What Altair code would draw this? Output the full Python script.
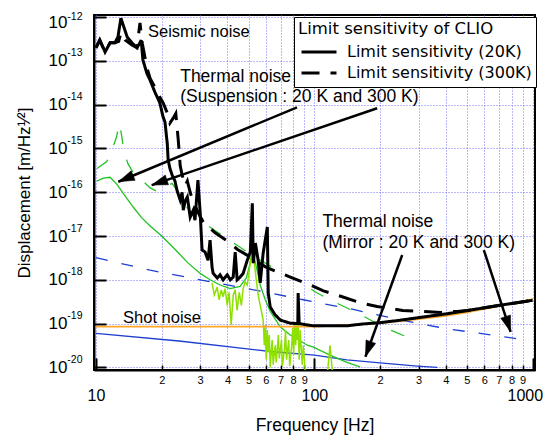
import altair as alt
import pandas as pd

FONT = "Liberation Sans, Arial, Helvetica, sans-serif"
LEGEND_FONT = "DejaVu Sans, sans-serif"
GRID = "#7373f2"

# ---- tick / grid values ----
x_decades = [10, 100, 1000]
x_minor = [20, 30, 40, 50, 60, 70, 80, 90, 200, 300, 400, 500, 600, 700, 800, 900]
y_decades = [1e-20, 1e-19, 1e-18, 1e-17, 1e-16, 1e-15, 1e-14, 1e-13, 1e-12]
x_domain = [9.79, 1025]
y_domain = [8.7e-21, 1.12e-12]

# ---- Limit sensitivity (20K) ----
f_lim20 = [10.0, 10.4, 11.0, 11.6, 12.2, 12.6, 13.0, 13.9, 14.6, 15.4, 15.9, 16.1, 16.4, 17.1, 17.7, 18.6, 19.6, 20.3, 20.7, 21.2,
           21.4, 21.8, 22.3, 23.0, 23.5, 24.3, 24.8, 25.1, 25.6, 26.2, 27.0, 27.9, 28.4, 29.3, 30.0, 30.6, 31.6, 32.6, 33.3, 34.0,
           34.4, 35.9, 37.0, 38.2, 39.9, 41.2, 42.5, 43.4, 44.3, 45.7, 47.2, 49.3, 50.9, 52.0, 52.5, 53.7, 55.3, 56.5, 58.3, 60.9,
           61.5, 62.8, 66.0, 69.9, 77.6, 84.0, 84.3, 85.2, 92.9, 99, 118, 141, 167, 200, 240, 304, 400, 505, 712, 1000]
d_lim20 = [2.0e-13, 3.0e-13, 1.6e-13, 2.6e-13, 2.6e-13, 3.5e-13, 9.5e-13, 3.5e-13, 2.6e-13, 2.0e-13,
           2.6e-13, 3.0e-13, 1.05e-13, 5.2e-14, 3.6e-14, 1.95e-14, 1.1e-14, 5.2e-15, 4.0e-15, 1.3e-15,
           5.5e-16, 3.5e-16, 2.5e-16, 1.8e-16, 1.1e-16, 6.6e-17, 1.0e-16, 3.9e-17, 6.3e-17, 7.8e-17,
           2.7e-17, 3.9e-17, 2.3e-17, 1.9e-16, 3.4e-17, 4.8e-18, 4.3e-18, 2.8e-18, 8.1e-18, 1.95e-18,
           1.4e-18, 1.1e-18, 1.3e-18, 1.0e-18, 1.3e-18, 1.0e-18, 1.15e-18, 4.3e-18, 1.0e-18, 1.15e-18,
           1.4e-18, 2.8e-18, 4.3e-18, 5.6e-17, 2.4e-18, 6.9e-18, 2.8e-18, 8.5e-19, 4.1e-18, 1.6e-17,
           5.0e-19, 2.4e-19, 1.6e-19, 1.2e-19, 1.02e-19, 1.0e-19, 5.0e-19, 1.0e-19, 9.3e-20, 8.9e-20,
           8.9e-20, 8.9e-20, 9.8e-20, 1.05e-19, 1.17e-19, 1.38e-19, 1.66e-19, 2.0e-19, 2.63e-19, 3.4e-19]

# ---- Limit sensitivity (300K) ----
f_lim300 = [10.0, 10.4, 11.0, 11.6, 12.2, 12.7, 13.0, 13.6, 14.6, 15.4, 15.9, 16.3, 17.1, 17.7, 18.6, 19.6, 20.3, 21.2, 21.8, 22.6,
            23.2, 23.8, 24.3, 24.8, 25.6, 26.2, 27.0, 28.0, 30.0, 31.0, 35.0, 41.2, 44.3, 50.9, 60.0, 68.0, 77.6, 96, 110, 132,
            162, 194, 254, 304, 380, 450, 505, 712, 1000]
d_lim300 = [2.0e-13, 3.0e-13, 1.6e-13, 2.6e-13, 2.6e-13, 2.8e-13, 4.4e-13, 3.0e-13, 2.3e-13, 2.0e-13,
            7.4e-13, 2.5e-13, 7.0e-14, 4.0e-14, 2.5e-14, 1.5e-14, 1.1e-14, 6.5e-15, 3.8e-15, 5.0e-15,
            6.3e-15, 1.6e-15, 4.0e-16, 2.5e-16, 1.4e-16, 1.8e-16, 1.0e-16, 5.6e-17, 2.8e-17, 2.1e-17,
            1.2e-17, 6.9e-18, 5.0e-18, 3.3e-18, 1.95e-18, 1.5e-18, 1.15e-18, 7.6e-19, 5.6e-19, 4.2e-19,
            3.0e-19, 2.45e-19, 2.0e-19, 1.9e-19, 1.8e-19, 1.9e-19, 2.0e-19, 2.63e-19, 3.4e-19]

# ---- Suspension thermal noise 20 K (green solid) ----
f_susp20 = [10.1, 10.8, 11.6, 12.5, 13.3, 14.8, 16.2, 17.7, 20.0, 23.0, 26.2, 30.0, 33.3, 37.0, 41.2, 45.7, 48.8, 50.9, 52.0, 53.7,
            56.5, 59.6, 62.8, 69.9, 77.6, 92.9, 99, 118, 141, 162]
d_susp20 = [1.8e-16, 2.1e-16, 2.2e-16, 1.5e-16, 9.5e-17, 4.6e-17, 2.6e-17, 1.7e-17, 1.0e-17, 5.0e-18,
            2.5e-18, 1.4e-18, 1.0e-18, 7.6e-19, 6.3e-19, 7.1e-19, 1.1e-18, 2.5e-18, 4.8e-18, 2.5e-18,
            7.6e-19, 3.5e-19, 1.9e-19, 8.3e-20, 5.5e-20, 3.2e-20, 2.9e-20, 1.9e-20, 1.3e-20, 1.02e-20]

# ---- Suspension thermal noise 300 K (green dashed) ----
f_susp300 = [10.1, 11.2, 11.9, 12.4, 12.8, 13.1, 13.4, 14.0, 14.8, 15.4, 17.7, 19.0, 20.5, 22.3, 23.5, 25.0, 27.0, 30.6,
             52.5, 70, 86, 103, 122, 146, 167, 207, 267, 296]
d_susp300 = [3.5e-16, 5.0e-16, 1.0e-15, 1.8e-15, 3.8e-15, 2.0e-15, 8.9e-16, 4.5e-16, 2.8e-16, 2.4e-16, 1.26e-16, 1.05e-16,
             1.26e-16, 1.6e-16, 1.1e-16, 6.3e-17, 3.5e-17, 2.1e-17, 3.5e-18, 1.5e-18, 8.9e-19, 5.0e-19, 3.2e-19, 2.1e-19,
             1.5e-19, 8.3e-20, 4.9e-20, 3.7e-20]

# ---- Mirror thermal noise ----
f_mir300 = [10, 17.7, 30, 62.8, 89, 151, 256, 406, 735, 910]
d_mir300 = [3.2e-18, 1.66e-18, 1.0e-18, 5.0e-19, 3.5e-19, 2.1e-19, 1.17e-19, 7.6e-20, 5.0e-20, 4.3e-20]
f_mir20 = [10, 24, 63, 100, 141, 200, 296, 366]
d_mir20 = [6.0e-20, 4.0e-20, 2.3e-20, 1.9e-20, 1.48e-20, 1.26e-20, 1.07e-20, 1.0e-20]

# ---- Shot noise ----
f_shot = [10, 100, 150, 200, 300, 400, 500, 700, 1000]
d_shot = [8.5e-20, 8.5e-20, 9.3e-20, 1.02e-19, 1.26e-19, 1.5e-19, 1.8e-19, 2.5e-19, 3.6e-19]

# ---- residual (light green, spiky) ----
f_resid = [34.0, 34.8, 35.9, 36.6, 37.5, 38.2, 39.0, 39.9, 40.7, 41.6, 42.5, 43.4, 44.3, 45.3, 46.3, 47.2, 48.2, 49.3, 50.3, 51.5,
           52.3, 53.1, 54.2, 55.3, 56.5, 58.3, 59.0, 59.6, 60.2, 60.9, 61.5, 62.2, 62.8, 64.1, 64.8, 66.2, 66.9, 68.4, 69.1, 70.7,
           71.4, 73.1, 73.8, 74.6, 76.3, 77.1, 78.8, 79.6, 80.4, 81.3, 82.2, 83.0, 83.9, 84.3, 85.2, 86.1, 88.0, 89.0, 90.9, 100,
           114, 118, 122]
d_resid = [8.5e-19, 4.5e-19, 6.8e-19, 3.5e-19, 5.9e-19, 4.1e-19, 6.3e-19, 2.6e-19, 5.2e-19, 9.3e-20,
           4.5e-19, 5.9e-19, 2.0e-19, 5.2e-19, 2.6e-19, 6.3e-19, 8.9e-19, 7.6e-19, 1.66e-18, 3.2e-18,
           4.8e-18, 2.5e-18, 1.0e-18, 4.5e-19, 2.6e-19, 1.2e-19, 3.2e-20, 9.3e-20, 1.5e-20, 7.1e-20,
           2.2e-20, 5.5e-20, 1.0e-20, 4.2e-20, 1.15e-20, 3.2e-20, 1.3e-20, 5.5e-20, 1.6e-20, 4.2e-20,
           1.07e-20, 2.75e-20, 7.1e-20, 1.5e-20, 4.2e-20, 1.07e-20, 3.2e-20, 7.9e-20, 1.9e-20, 9.3e-20,
           3.2e-20, 1.1e-19, 4.2e-20, 9.3e-20, 1.5e-20, 7.1e-20, 1.15e-20, 3.2e-20, 7.9e-21, 5e-21,
           5e-21, 3.2e-20, 5e-21]

# ---- annotations ----
text_labels = ["Seismic noise", "Thermal noise", "(Suspension : 20 K and 300 K)",
               "Thermal noise", "(Mirror : 20 K and 300 K)", "Shot noise"]
text_f = [17.3, 24.3, 24.3, 108.9, 108.9, 13.3]
text_d = [4.6e-13, 4.3e-14, 1.5e-14, 2.1e-17, 6.9e-18, 1.35e-19]
text_size = [16.5, 17.5, 17.5, 17.5, 17.5, 16.5]

arrow_f0 = [83.3, 193.9, 252.6, 597.6]
arrow_d0 = [8.7e-15, 8.3e-15, 3.68e-18, 4.79e-18]
arrow_f1 = [12.66, 18.0, 171.4, 792.5]
arrow_d1 = [1.74e-16, 1.46e-16, 1.75e-20, 6.5e-20]
arrow_angle = [247.4, 251.2, 199.8, 161.9]

legend_20k = "Limit sensitivity (20K)"
legend_300k = "Limit sensitivity (300K)"

# ---------------------------------------------------------------
xs = alt.Scale(type="log", domain=x_domain, nice=False)
ys = alt.Scale(type="log", domain=y_domain, nice=False)
x_all = sorted(x_decades + x_minor)

def df(f, d):
    return pd.DataFrame({"f": f, "d": d})

def X(axis=None):
    return alt.X("f:Q", scale=xs, axis=axis)

def Y(axis=None):
    return alt.Y("d:Q", scale=ys, axis=axis)

TOP_TEST = "datum.value > 5e-13"
LAST_TEST = "datum.value > 500"

ax_x_grid = alt.Axis(orient="bottom", values=x_all, grid=True, gridColor=GRID, gridDash=[1, 2], gridWidth=1,
                     ticks=False, domain=True, domainColor="black", domainWidth=2,
                     labelExpr="(datum.value == 10 || datum.value == 100 || datum.value == 1000) ? '' : (datum.value < 100 ? format(datum.value / 10, 'd') : format(datum.value / 100, 'd'))",
                     labelFont=FONT, labelFontSize=11, labelColor="black", labelPadding=4,
                     labelOverlap=False, labelFlush=False, labelBound=False, title=None)
ax_x_major = alt.Axis(orient="bottom", values=x_decades, grid=False, ticks=False, domain=False,
                      labelExpr="format(datum.value, 'd')", labelFont=FONT, labelFontSize=16, labelColor="black",
                      labelAlign={"condition": {"test": LAST_TEST, "value": "right"}, "value": "center"},
                      labelOffset={"condition": {"test": LAST_TEST, "value": 10}, "value": 0},
                      labelPadding=17, labelOverlap=False, labelFlush=False, labelBound=False,
                      title="Frequency [Hz]", titleFont=FONT, titleFontSize=17.5, titleFontWeight="normal",
                      titleColor="black", titlePadding=13)
ax_x_minor_ticks = alt.Axis(orient="top", offset=-355, values=x_minor, grid=False, labels=False, domain=False,
                            ticks=True, tickColor="black", tickWidth=1.5, tickSize=5, title=None)
ax_x_major_ticks = alt.Axis(orient="top", offset=-355, values=x_decades, grid=False, labels=False, domain=False,
                            ticks=True, tickColor="black", tickWidth=2, tickSize=12, title=None)

ax_y_main = alt.Axis(orient="left", values=y_decades, grid=True, gridColor=GRID, gridDash=[1, 2], gridWidth=1,
                     ticks=False, domain=True, domainColor="black", domainWidth=2,
                     labelExpr="'10'", labelFont=FONT, labelFontSize=17, labelColor="black", labelPadding=27,
                     labelOffset={"condition": {"test": TOP_TEST, "value": 5}, "value": 0},
                     labelOverlap=False, labelBound=False,
                     title="Displacement [m/Hz¹⁄²]", titleFont=FONT, titleFontSize=17, titleFontWeight="normal",
                     titleColor="black", titlePadding=15)
ax_y_exp = alt.Axis(orient="left", values=y_decades, grid=False, ticks=False, domain=False,
                    labelExpr="'-' + format(-round(log(datum.value) / LN10), 'd')",
                    labelFont=FONT, labelFontSize=10.5, labelColor="black", labelPadding=12,
                    labelOffset={"condition": {"test": TOP_TEST, "value": -1}, "value": -8},
                    labelOverlap=False, labelBound=False, title=None)
ax_y_ticks = alt.Axis(orient="right", offset=-441, values=y_decades, grid=False, labels=False, domain=False,
                      ticks=True, tickColor="black", tickWidth=2, tickSize=12, title=None)

GREEN = "#22c322"
BLUE = "#1f3fd0"

l_mir20 = alt.Chart(df(f_mir20, d_mir20)).mark_line(color=BLUE, strokeWidth=1.3, clip=True).encode(
    x=X(ax_x_grid), y=Y(ax_y_main))
l_mir300 = alt.Chart(df(f_mir300, d_mir300)).mark_line(color=BLUE, strokeWidth=1.3, strokeDash=[12, 14], clip=True).encode(
    x=X(ax_x_major), y=Y(ax_y_exp))
l_susp20 = alt.Chart(df(f_susp20, d_susp20)).mark_line(color=GREEN, strokeWidth=1.3, clip=True).encode(
    x=X(ax_x_minor_ticks), y=Y(ax_y_ticks))
l_susp300 = alt.Chart(df(f_susp300, d_susp300)).mark_line(color=GREEN, strokeWidth=1.3, strokeDash=[14, 16], clip=True).encode(
    x=X(ax_x_major_ticks), y=Y())
l_resid = alt.Chart(df(f_resid, d_resid)).mark_line(color="#8ee000", strokeWidth=1.5, clip=True).encode(
    x=X(), y=Y())
l_shot = alt.Chart(df(f_shot, d_shot)).mark_line(color="#ffa726", strokeWidth=1.8, clip=True).encode(
    x=X(), y=Y())

black_df = pd.concat([
    pd.DataFrame({"f": f_lim300, "d": d_lim300, "series": legend_300k}),
    pd.DataFrame({"f": f_lim20, "d": d_lim20, "series": legend_20k}),
])
l_black = alt.Chart(black_df).mark_line(color="black", strokeWidth=3, clip=True).encode(
    x=X(), y=Y(),
    strokeDash=alt.StrokeDash(
        "series:N",
        scale=alt.Scale(domain=[legend_20k, legend_300k], range=[[1, 0], [18, 11]]),
        legend=alt.Legend(
            title="Limit sensitivity of CLIO", orient="none", legendX=200, legendY=2,
            fillColor="white", strokeColor="black", padding=4, cornerRadius=0,
            titleFont=LEGEND_FONT, titleFontSize=16.5, titleFontWeight="normal", titleColor="black",
            titlePadding=5, titleLimit=400,
            labelFont=LEGEND_FONT, labelFontSize=16, labelColor="black", labelOffset=9, labelLimit=400,
            symbolType="stroke", symbolSize=1225, symbolStrokeWidth=3, symbolStrokeColor="black",
            symbolOffset=2, rowPadding=2, clipHeight=19,
        ),
    ),
)

texts = alt.Chart(pd.DataFrame({"f": text_f, "d": text_d, "t": text_labels, "s": text_size})).mark_text(
    align="left", baseline="middle", font=FONT, color="black").encode(
    x=X(), y=Y(), text="t:N", size=alt.Size("s:Q", scale=None))

arrows_df = pd.DataFrame({"f": arrow_f0, "d": arrow_d0, "f2": arrow_f1, "d2": arrow_d1, "a": arrow_angle})
arrow_lines = alt.Chart(arrows_df).mark_rule(color="black", strokeWidth=2.5).encode(
    x=X(), y=Y(), x2="f2:Q", y2="d2:Q")
arrow_heads = alt.Chart(arrows_df).mark_point(
    shape="M0,0 L-0.32,1 L0.32,1 Z", filled=True, fill="black", stroke="black", strokeWidth=0.5,
    size=1024, opacity=1).encode(
    x=alt.X("f2:Q", scale=xs, axis=None), y=alt.Y("d2:Q", scale=ys, axis=None),
    angle=alt.Angle("a:Q", scale=None))

chart = alt.layer(
    l_mir20, l_mir300, l_susp20, l_susp300, l_resid, l_shot, l_black, texts, arrow_lines, arrow_heads
).resolve_scale(x="shared", y="shared").resolve_axis(x="independent", y="independent").properties(
    width=441, height=355,
    autosize=alt.AutoSizeParams(type="none"),
    padding={"left": 86, "top": 7, "right": 8, "bottom": 70},
).configure_view(stroke="black", strokeWidth=2)

chart.save("out.html", embed_options={"renderer": "svg", "actions": False})
